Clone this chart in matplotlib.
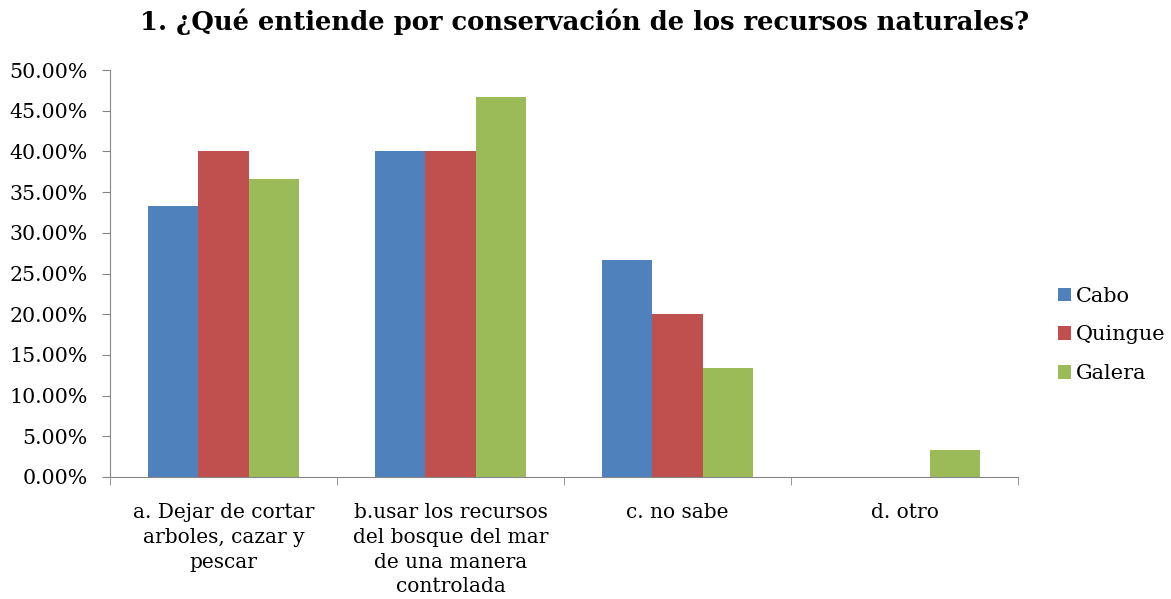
import numpy as np
import matplotlib.pyplot as plt
from matplotlib.ticker import FuncFormatter

categorias = ["a. Dejar de cortar\narboles, cazar y\npescar",
              "b.usar los recursos\ndel bosque del mar\nde una manera\ncontrolada",
              "c. no sabe",
              "d. otro"]
cabo = [0.3333, 0.40, 0.2667, 0.0]
quingue = [0.40, 0.40, 0.20, 0.0]
galera = [0.3667, 0.4667, 0.1333, 0.0333]

plt.rcParams['font.family'] = ['DejaVu Serif']

fig = plt.figure(figsize=(11.71, 5.99), dpi=100)
ax = fig.add_axes([110 / 1171, 1 - 477 / 599, (1018 - 110) / 1171, (477 - 70) / 599])

x = np.arange(len(categorias))
w = 0.223
ax.bar(x - w, cabo, w, color="#4F81BD", label="Cabo")
ax.bar(x, quingue, w, color="#C0504D", label="Quingue")
ax.bar(x + w, galera, w, color="#9BBB59", label="Galera")

ax.set_xlim(-0.5, len(categorias) - 0.5)
ax.set_ylim(0, 0.5)
ax.set_yticks(np.arange(0, 0.51, 0.05))
ax.yaxis.set_major_formatter(FuncFormatter(lambda v, p: "{:.2f}%".format(v * 100)))

ax.set_xticks(x)
ax.set_xticklabels(categorias, fontsize=14.5, linespacing=1.38)
ax.set_xticks(np.arange(-0.5, len(categorias), 1), minor=True)
ax.tick_params(axis="x", which="major", length=0, pad=19)
ax.tick_params(axis="x", which="minor", length=6, color="#868686", direction="out")
ax.tick_params(axis="y", length=6, color="#868686", labelsize=14.8, direction="out", pad=10)

for s in ["top", "right"]:
    ax.spines[s].set_visible(False)
for s in ["left", "bottom"]:
    ax.spines[s].set_color("#868686")

fig.suptitle("1. ¿Qué entiende por conservación de los recursos naturales?",
             fontsize=18.6, fontweight="bold", x=0.499, y=0.985)

ax.legend(loc="center left", bbox_to_anchor=(1.035, 0.349), frameon=False,
          fontsize=15, handlelength=0.6, handleheight=0.6, handletextpad=0.25,
          labelspacing=0.95, borderaxespad=0)

fig.savefig("out.png", dpi=100)
